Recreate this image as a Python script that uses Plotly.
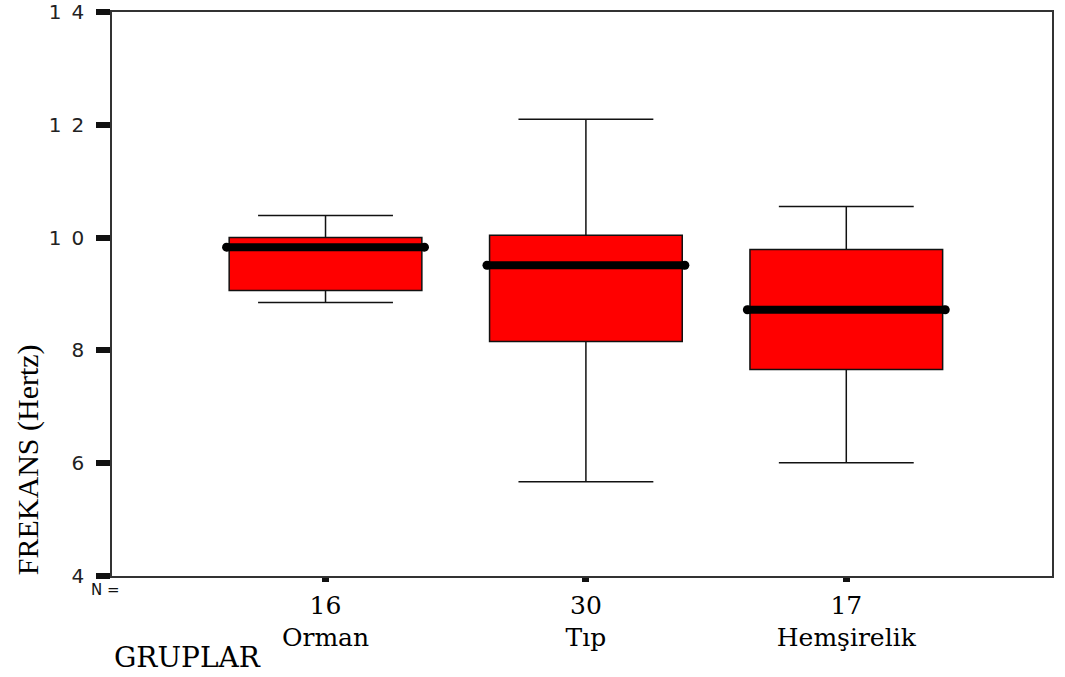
import plotly.graph_objects as go

# ---- data ----
groups = ["Orman", "Tıp", "Hemşirelik"]
counts = [16, 30, 17]
positions = [0, 1, 2]
q1 = [9.06, 8.16, 7.66]
median = [9.83, 9.51, 8.72]
q3 = [10.0, 10.04, 9.79]
lower_whisker = [8.85, 5.67, 6.01]
upper_whisker = [10.39, 12.10, 10.55]
y_tickvals = [4, 6, 8, 10, 12, 14]
y_ticktext = ["4", "6", "8", "1\u20020", "1\u20022", "1\u20024"]

BOX_W = 0.74

fig = go.Figure()
fig.add_trace(go.Box(
    x=positions, q1=q1, median=median, q3=q3,
    lowerfence=lower_whisker, upperfence=upper_whisker,
    width=BOX_W, whiskerwidth=0.7,
    fillcolor="#ff0000", line=dict(color="#111111", width=1.5),
    boxpoints=False, hoverinfo="skip", showlegend=False,
))

# thick median bars with rounded ends
for p, m in zip(positions, median):
    fig.add_trace(go.Scatter(
        x=[p - BOX_W / 2 - 0.01, p + BOX_W / 2 + 0.01], y=[m, m],
        mode="lines+markers",
        line=dict(color="#000000", width=8),
        marker=dict(color="#000000", size=9),
        showlegend=False, hoverinfo="skip",
    ))

tick_labels = [f"{n}<br>{g}" for n, g in zip(counts, groups)]

fig.update_layout(
    width=1065, height=677,
    margin=dict(l=112, r=13, t=12, b=101),
    paper_bgcolor="white", plot_bgcolor="white",
    showlegend=False,
    xaxis=dict(
        range=[-0.82, 2.79], tickvals=positions, ticktext=tick_labels,
        showgrid=False, zeroline=False, automargin=False,
        showline=True, mirror=True, linecolor="#333333", linewidth=1.5,
        ticks="outside", ticklen=4, tickwidth=7, tickcolor="#111111",
        ticklabelstandoff=2,
        tickfont=dict(family="DejaVu Serif", size=25, color="#000000"),
    ),
    yaxis=dict(
        range=[4, 14], tickvals=y_tickvals, ticktext=y_ticktext,
        showgrid=False, zeroline=False, automargin=False,
        showline=True, mirror=True, linecolor="#333333", linewidth=1.5,
        ticks="outside", ticklen=14, tickwidth=6, tickcolor="#111111",
        ticklabelstandoff=8,
        tickfont=dict(family="DejaVu Sans", size=20, color="#222222"),
    ),
    annotations=[
        dict(text="FREKANS (Hertz)", textangle=-90, xref="paper", yref="y",
             x=-0.09, y=6.06, xanchor="center", yanchor="middle", showarrow=False,
             font=dict(family="Liberation Serif", size=30, color="#000000")),
        dict(text="N =", xref="paper", yref="paper", x=-0.0074, y=-0.025,
             xanchor="center", yanchor="middle", showarrow=False,
             font=dict(family="DejaVu Sans", size=15, color="#111111")),
        dict(text="GRUPLAR", xref="paper", yref="paper", x=0.08, y=-0.144,
             xanchor="center", yanchor="middle", showarrow=False,
             font=dict(family="DejaVu Serif", size=28, color="#000000")),
    ],
)

fig.write_html("out.html")
